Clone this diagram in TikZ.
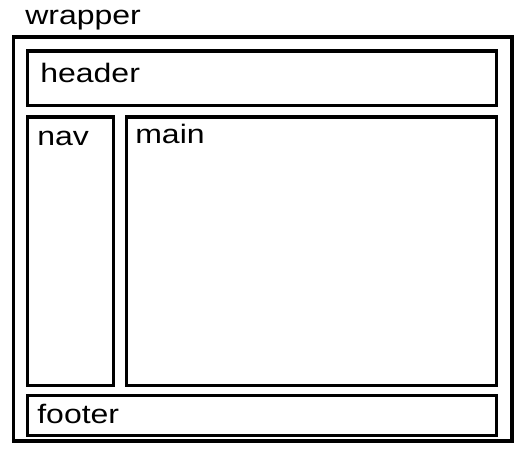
\documentclass[tikz,border=0pt]{standalone}
\usepackage{fontspec}
\setmainfont{Liberation Sans}
\begin{document}
\begin{tikzpicture}[x=0.75pt, y=-0.75pt,
    box/.style={draw, line width=2.6pt, rectangle, inner sep=0pt},
    lbl/.style={anchor=base west, inner sep=0pt, font=\fontsize{20}{24}\selectfont, xscale=1.2, transform shape}]
    \useasboundingbox (0,0) rectangle (527,456);

    % Boxes
    \draw[box] (13.5,37) rectangle (512,441);
    \node[box, anchor=north west, minimum width=469.5*0.75pt, minimum height=54.5*0.75pt] (header) at (25.5,49.5) {};
    \node[box, anchor=north west, minimum width=86.5*0.75pt, minimum height=268.5*0.75pt] (nav) at (25.5,115.5) {};
    \node[box, anchor=north west, minimum width=370.5*0.75pt, minimum height=268.5*0.75pt] (main) at (124.5,115.5) {};
    \node[box, anchor=north west, minimum width=469.5*0.75pt, minimum height=40*0.75pt] (footer) at (25.5,393.5) {};

    % Labels
    \node[lbl] (wrapperlbl) at (25,25) {wrapper};
    \node[lbl] (headerlbl) at (40,83) {header};
    \node[lbl] (navlbl) at (37,145) {nav};
    \node[lbl] (mainlbl) at (135,143) {main};
    \node[lbl] (footerlbl) at (37,423) {footer};
\end{tikzpicture}
\end{document}
